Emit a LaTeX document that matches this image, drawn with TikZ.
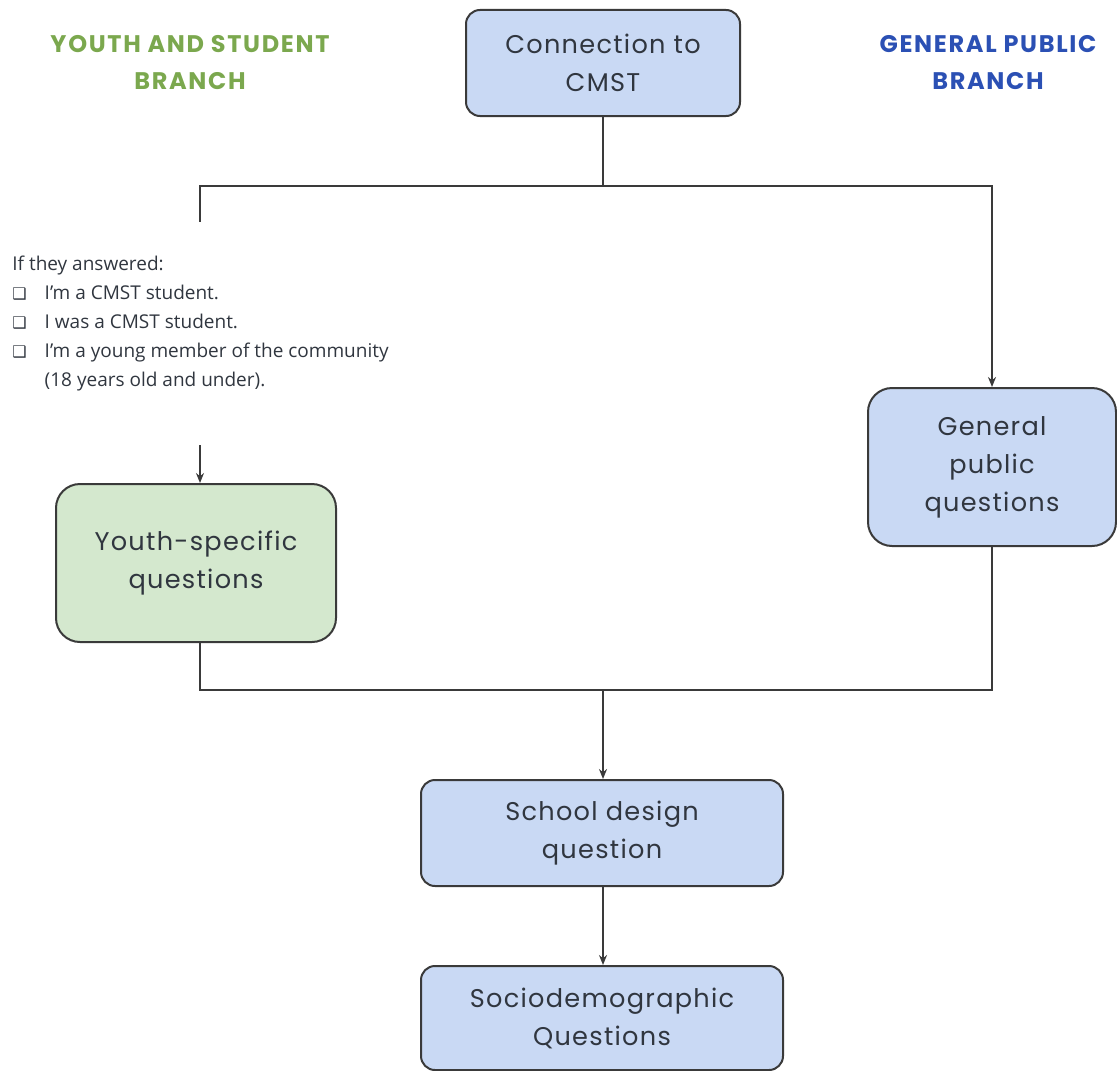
\documentclass[tikz,border=0pt]{standalone}
\usepackage{fontspec}
\setmainfont{Open Sans}
\newfontfamily\boxfont[LetterSpace=5]{Poppins}
\newfontfamily\headfont[LetterSpace=7]{Poppins}
\newfontfamily\symfont{DejaVu Sans}
\usepackage{xcolor}
\usetikzlibrary{arrows.meta,positioning,calc}
\definecolor{boxblue}{HTML}{C9D9F4}
\definecolor{boxgreen}{HTML}{D4E8CE}
\definecolor{edgegray}{HTML}{3A3A3A}
\definecolor{txtgray}{HTML}{30363F}
\definecolor{youthgreen}{HTML}{7BA84E}
\definecolor{publicblue}{HTML}{2B50B4}
\tikzset{
  qbox/.style={draw=edgegray, line width=1pt, rounded corners=7pt, fill=boxblue,
    align=center, text=txtgray, font=\boxfont\fontsize{12.8}{19}\selectfont},
  ybox/.style={qbox, fill=boxgreen, rounded corners=12pt},
  gbox/.style={qbox, rounded corners=12pt},
  branch/.style={align=center, font=\headfont\bfseries\fontsize{12}{18.5}\selectfont},
  link/.style={draw=edgegray, line width=0.9pt},
  arr/.style={link, -{Stealth[length=5pt,width=4pt]}}
}
\newcommand{\qmark}{{\symfont\fontsize{8}{10}\selectfont ❑}}

\begin{document}
\begin{tikzpicture}[x=0.5pt, y=-0.5pt]
  \useasboundingbox (0,0) rectangle (1117,1070);

  % branch labels
  \node[branch, text=youthgreen] (ylbl) at (190,63) {YOUTH AND STUDENT\\BRANCH};
  \node[branch, text=publicblue] (plbl) at (988,63) {GENERAL PUBLIC\\BRANCH};

  % question boxes
  \node[qbox, minimum width=137pt, minimum height=53pt] (cmst) at (603,63)
    {Connection to\\CMST};
  \node[gbox, minimum width=124pt, minimum height=79pt] (general) at (992,467)
    {General\\public\\questions};
  \node[ybox, minimum width=140pt, minimum height=79pt] (youth) at (196,563)
    {Youth-specific\\questions};
  \node[qbox, minimum width=181pt, minimum height=53pt] (school) at (602,833)
    {School design\\question};
  \node[qbox, minimum width=181pt, minimum height=52pt] (socio) at (602,1018)
    {Sociodemographic\\Questions};

  % condition text
  \node[anchor=north west, inner sep=0pt, text=txtgray,
    font=\fontsize{9.5}{14.5}\selectfont] (cond) at (12,250)
    {\begin{tabular}{@{}l@{\hspace{9pt}}l@{}}
      \multicolumn{2}{@{}l}{If they answered:}\\
      \qmark & I'm a CMST student.\\
      \qmark & I was a CMST student.\\
      \qmark & I'm a young member of the community\\
             & (18 years old and under).
    \end{tabular}};

  % junction points
  \coordinate (split) at (603,186);
  \coordinate (lstub) at (200,222);
  \coordinate (lfeed) at (200,445);
  \coordinate (merge) at (603,690);

  \draw[link] (cmst.south) -- (split);
  \draw[link] (split) -| (lstub);
  \draw[arr] (split) -| (general.north);
  \draw[arr] (lfeed) -- (lfeed |- youth.north);
  \draw[link] (youth.south -| lfeed) |- (merge);
  \draw[link] (merge) -| (general.south);
  \draw[arr] (merge) -- (merge |- school.north);
  \draw[arr] (school.south -| merge) -- (merge |- socio.north);
\end{tikzpicture}
\end{document}
